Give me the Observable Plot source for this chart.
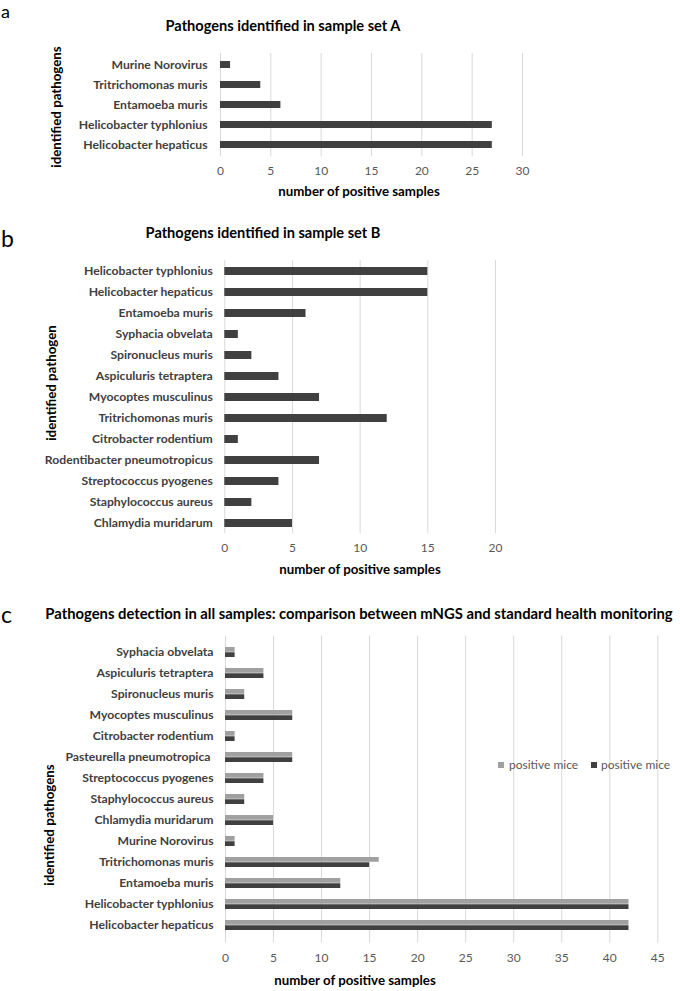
<!DOCTYPE html>
<html>
<head>
<meta charset="utf-8">
<script src="https://cdn.jsdelivr.net/npm/d3@7"></script>
<script src="https://cdn.jsdelivr.net/npm/@observablehq/plot@0.6"></script>
<style>
  html, body { margin: 0; padding: 0; background: #fff; }
  #root { position: relative; width: 680px; height: 991px; overflow: hidden; font-family: Lato, "Open Sans", sans-serif; }
  .panel svg { font-family: Lato, "Open Sans", sans-serif; }
  .panel g[aria-label^="y-axis"] text { font-weight: bold; fill: #404040; font-size: 12.2px; }
  .panel g[aria-label^="x-axis"] text { fill: #595959; font-size: 12px; }
</style>
</head>
<body>
<div id="root"></div>
<script>
// ---------- Data ----------
// Panel a
const aCategories = ["Murine Norovirus", "Tritrichomonas muris", "Entamoeba muris", "Helicobacter typhlonius", "Helicobacter hepaticus"];
const aValues = [1, 4, 6, 27, 27];
const aTicks = [0, 5, 10, 15, 20, 25, 30];

// Panel b
const bCategories = ["Helicobacter typhlonius", "Helicobacter hepaticus", "Entamoeba muris", "Syphacia obvelata", "Spironucleus muris", "Aspiculuris tetraptera", "Myocoptes musculinus", "Tritrichomonas muris", "Citrobacter rodentium", "Rodentibacter pneumotropicus", "Streptococcus pyogenes", "Staphylococcus aureus", "Chlamydia muridarum"];
const bValues = [15, 15, 6, 1, 2, 4, 7, 12, 1, 7, 4, 2, 5];
const bTicks = [0, 5, 10, 15, 20];

// Panel c
const cCategories = ["Syphacia obvelata", "Aspiculuris tetraptera", "Spironucleus muris", "Myocoptes musculinus", "Citrobacter rodentium", "Pasteurella pneumotropica ", "Streptococcus pyogenes", "Staphylococcus aureus", "Chlamydia muridarum", "Murine Norovirus", "Tritrichomonas muris", "Entamoeba muris", "Helicobacter typhlonius", "Helicobacter hepaticus"];
const cSeries1 = [1, 4, 2, 7, 1, 7, 4, 2, 5, 1, 16, 12, 42, 42]; // light grey
const cSeries2 = [1, 4, 2, 7, 1, 7, 4, 2, 5, 1, 15, 12, 42, 42]; // dark grey
const cSeriesNames = ["positive mice", "positive mice"];
const cTicks = [0, 5, 10, 15, 20, 25, 30, 35, 40, 45];

const titles = {
  a: "Pathogens identified in sample set A",
  b: "Pathogens identified in sample set B",
  c: "Pathogens detection in all samples: comparison between mNGS and standard health monitoring"
};
const xTitle = "number of positive samples";
const yTitles = { a: "identified pathogens", b: "identified pathogen", c: "identified pathogens" };

const DARK = "#404040", LIGHT = "#a0a0a0", GRID = "#d9d9d9";
const root = document.getElementById("root");

function place(el, top) {
  const wrap = document.createElement("div");
  wrap.className = "panel";
  wrap.style.position = "absolute";
  wrap.style.left = "0px";
  wrap.style.top = top + "px";
  wrap.appendChild(el);
  root.appendChild(wrap);
}

// ---------- Panel a ----------
{
  const top = 0, H = 200;
  const fy0 = 53, fy1 = 156.4;
  const data = aCategories.map((c, i) => ({cat: c, v: aValues[i]}));
  const p = Plot.plot({
    width: 680, height: H,
    marginTop: fy0 - top, marginBottom: top + H - fy1, marginLeft: 220, marginRight: 680 - 522,
    x: {domain: [0, 30], ticks: aTicks, tickSize: 0, tickPadding: 10, label: null},
    y: {domain: aCategories, paddingInner: 0.65, paddingOuter: 0.325, tickSize: 0, tickPadding: 13, label: null},
    marks: [
      Plot.ruleX(aTicks, {stroke: GRID, strokeWidth: 1}),
      Plot.barX(data, {x: "v", y: "cat", fill: DARK})
    ]
  });
  place(p, top);
}

// ---------- Panel b ----------
{
  const top = 200, H = 400;
  const fy0 = 260.2, fy1 = 533.2;
  const data = bCategories.map((c, i) => ({cat: c, v: bValues[i]}));
  const p = Plot.plot({
    width: 680, height: H,
    marginTop: fy0 - top, marginBottom: top + H - fy1, marginLeft: 224.3, marginRight: 680 - 495,
    x: {domain: [0, 20], ticks: bTicks, tickSize: 0, tickPadding: 10, label: null},
    y: {domain: bCategories, paddingInner: 0.64, paddingOuter: 0.32, tickSize: 0, tickPadding: 12, label: null},
    marks: [
      Plot.ruleX(bTicks, {stroke: GRID, strokeWidth: 1}),
      Plot.barX(data, {x: "v", y: "cat", fill: DARK})
    ]
  });
  place(p, top);
}

// ---------- Panel c ----------
{
  const top = 600, H = 391;
  const fy0 = 635.5, fy1 = 942.5;
  const light = cCategories.map((c, i) => ({cat: c, v: cSeries1[i], s: 0}));
  const dark = cCategories.map((c, i) => ({cat: c, v: cSeries2[i], s: 1}));
  const p = Plot.plot({
    width: 680, height: H,
    marginTop: fy0 - top, marginBottom: top + H - fy1, marginLeft: 225, marginRight: 680 - 657.3,
    x: {domain: [0, 45], ticks: cTicks, tickSize: 0, tickPadding: 10, label: null},
    y: {domain: cCategories, paddingInner: 0.52, paddingOuter: 0.26, tickSize: 0, tickPadding: 12, label: null},
    marks: [
      Plot.ruleX(cTicks, {stroke: GRID, strokeWidth: 1}),
      Plot.barX(light, {x: "v", y: "cat", fill: LIGHT, insetBottom: 5.25}),
      Plot.barX(dark, {x: "v", y: "cat", fill: DARK, insetTop: 5.25})
    ]
  });
  place(p, top);
}

// ---------- Annotations (titles, panel letters, axis titles, legend) ----------
{
  const ns = "http://www.w3.org/2000/svg";
  const svg = document.createElementNS(ns, "svg");
  svg.setAttribute("width", 680);
  svg.setAttribute("height", 991);
  svg.style.position = "absolute";
  svg.style.left = "0px";
  svg.style.top = "0px";
  svg.style.pointerEvents = "none";
  svg.style.fontFamily = "Lato, 'Open Sans', sans-serif";
  function text(str, x, y, opts = {}) {
    const t = document.createElementNS(ns, "text");
    t.textContent = str;
    t.setAttribute("x", x);
    t.setAttribute("y", y);
    t.setAttribute("font-size", opts.size || 12);
    if (opts.bold) t.setAttribute("font-weight", "bold");
    t.setAttribute("fill", opts.fill || "#000");
    t.setAttribute("text-anchor", opts.anchor || "start");
    if (opts.rotate) t.setAttribute("transform", `rotate(-90 ${x} ${y})`);
    svg.appendChild(t);
  }
  function rect(x, y, w, h, fill) {
    const r = document.createElementNS(ns, "rect");
    r.setAttribute("x", x); r.setAttribute("y", y);
    r.setAttribute("width", w); r.setAttribute("height", h);
    r.setAttribute("fill", fill);
    svg.appendChild(r);
  }
  // panel letters
  text("a", 1, 18, {size: 18});
  text("b", 1, 247, {size: 23});
  text("c", 1, 623, {size: 23});
  // titles
  text(titles.a, 283, 31, {size: 14.6, bold: true, anchor: "middle"});
  text(titles.b, 263, 238, {size: 14.6, bold: true, anchor: "middle"});
  text(titles.c, 359, 619, {size: 14.8, bold: true, anchor: "middle"});
  // x axis titles
  text(xTitle, 359, 196, {size: 13.3, bold: true, anchor: "middle"});
  text(xTitle, 360, 574, {size: 13.3, bold: true, anchor: "middle"});
  text(xTitle, 355, 985, {size: 13.3, bold: true, anchor: "middle"});
  // y axis titles
  text(yTitles.a, 61, 107, {size: 13.3, bold: true, anchor: "middle", rotate: true});
  text(yTitles.b, 56, 383, {size: 13.3, bold: true, anchor: "middle", rotate: true});
  text(yTitles.c, 54, 825, {size: 13.3, bold: true, anchor: "middle", rotate: true});
  // legend
  rect(498, 762, 6, 6, LIGHT);
  text(cSeriesNames[0], 509, 769, {size: 12, fill: "#595959"});
  rect(591, 762, 6, 6, DARK);
  text(cSeriesNames[1], 601, 769, {size: 12, fill: "#595959"});
  root.appendChild(svg);
}
</script>
</body>
</html>
